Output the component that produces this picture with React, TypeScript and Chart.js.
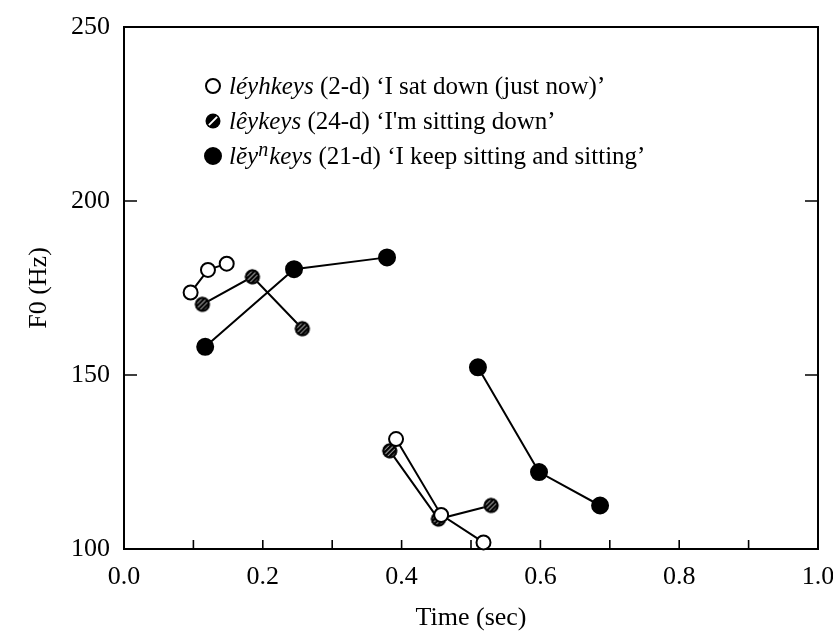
import React, { useEffect, useRef } from "react";
import { Chart, registerables } from "chart.js";

Chart.register(...registerables);

// ---- Data (time in sec, F0 in Hz); null separates the two word parts ----
const leyhkeysTime = [0.096, 0.121, 0.148, null, 0.392, 0.457, 0.518];
const leyhkeysF0 = [173.7, 180.2, 182.0, null, 131.6, 109.8, 101.9];

const leykeysTime = [0.113, 0.185, 0.257, null, 0.383, 0.453, 0.529];
const leykeysF0 = [170.3, 178.2, 163.3, null, 128.2, 108.6, 112.5];

const leynkeysTime = [0.117, 0.245, 0.379, null, 0.51, 0.598, 0.686];
const leynkeysF0 = [158.1, 180.4, 183.8, null, 152.2, 122.1, 112.5];

const xMin = 0;
const xMax = 1;
const xLabelStep = 0.2;
const xMinorStep = 0.1;
const yMin = 100;
const yMax = 250;
const yStep = 50;

const xTitle = "Time (sec)";
const yTitle = "F0 (Hz)";

// legend rows
const legend1 = [
  { t: "léyhkeys", i: true },
  { t: " (2-d) ‘I sat down (just now)’", i: false },
];
const legend2 = [
  { t: "lêykeys", i: true },
  { t: " (24-d) ‘I'm sitting down’", i: false },
];
const legend3 = [
  { t: "lĕy", i: true },
  { t: "n", i: true, sup: true },
  { t: "keys", i: true },
  { t: " (21-d) ‘I keep sitting and sitting’", i: false },
];

const FONT = '"Liberation Serif", "Times New Roman", Times, serif';

function toPoints(xs: (number | null)[], ys: (number | null)[]) {
  return xs.map((x, i) => ({ x: x, y: ys[i] }));
}

function makeHatch(r: number) {
  const s = Math.ceil(r * 2 + 3);
  const c = document.createElement("canvas");
  c.width = s;
  c.height = s;
  const g = c.getContext("2d")!;
  const cx = s / 2;
  g.beginPath();
  g.arc(cx, cx, r, 0, Math.PI * 2);
  g.fillStyle = "#fff";
  g.fill();
  g.save();
  g.clip();
  g.strokeStyle = "#000";
  g.lineWidth = 2.6;
  for (let k = -2 * s; k < 2 * s; k += 4.6) {
    g.beginPath();
    g.moveTo(k, s);
    g.lineTo(k + s, 0);
    g.stroke();
  }
  g.restore();
  g.beginPath();
  g.arc(cx, cx, r - 1, 0, Math.PI * 2);
  g.lineWidth = 2;
  g.strokeStyle = "#000";
  g.stroke();
  return c;
}

function makeLegendHatch(r: number) {
  const s = Math.ceil(r * 2 + 3);
  const c = document.createElement("canvas");
  c.width = s;
  c.height = s;
  const g = c.getContext("2d")!;
  const cx = s / 2;
  g.beginPath();
  g.arc(cx, cx, r, 0, Math.PI * 2);
  g.fillStyle = "#000";
  g.fill();
  g.save();
  g.clip();
  g.strokeStyle = "#fff";
  g.lineWidth = 2;
  g.beginPath();
  g.moveTo(cx - r * 0.55, cx + r * 0.55);
  g.lineTo(cx + r * 0.55, cx - r * 0.55);
  g.stroke();
  g.restore();
  return c;
}

export default function App() {
  const ref = useRef<HTMLCanvasElement>(null);

  useEffect(() => {
    document.body.style.margin = "0";
    const canvas = ref.current!;
    const hatch = makeHatch(7.5);
    const legendHatch = makeLegendHatch(7.5);

    const framePlugin = {
      id: "frame",
      beforeDatasetsDraw(chart: any) {
        const { ctx, chartArea } = chart;
        const { left, right, top, bottom } = chartArea;
        ctx.save();
        ctx.strokeStyle = "#000";
        ctx.lineWidth = 2;
        ctx.strokeRect(left, top, right - left, bottom - top);
        const xs = chart.scales.x;
        const ys = chart.scales.y;
        ctx.lineWidth = 1.6;
        const n = Math.round((xMax - xMin) / xMinorStep);
        for (let k = 1; k < n; k++) {
          const px = xs.getPixelForValue(xMin + k * xMinorStep);
          ctx.beginPath();
          ctx.moveTo(px, bottom);
          ctx.lineTo(px, bottom - 9);
          ctx.stroke();
        }
        for (const tk of ys.ticks) {
          if (tk.value <= yMin || tk.value >= yMax) continue;
          const py = ys.getPixelForValue(tk.value);
          ctx.beginPath();
          ctx.moveTo(left, py);
          ctx.lineTo(left + 13, py);
          ctx.moveTo(right, py);
          ctx.lineTo(right - 13, py);
          ctx.stroke();
        }
        ctx.restore();
      },
      afterDraw(chart: any) {
        const { ctx, chartArea } = chart;
        const rows = [legend1, legend2, legend3];
        const markers = ["open", "hatch", "filled"];
        const mx = chartArea.left + 89;
        const size = 25;
        ctx.save();
        rows.forEach((row, ri) => {
          const cy = chartArea.top + 59 + ri * 35;
          const m = markers[ri];
          if (m === "hatch") {
            ctx.drawImage(legendHatch, mx - legendHatch.width / 2, cy - legendHatch.height / 2);
          } else {
            ctx.beginPath();
            ctx.arc(mx, cy, m === "filled" ? 8 : 7, 0, Math.PI * 2);
            ctx.fillStyle = m === "filled" ? "#000" : "#fff";
            ctx.fill();
            ctx.lineWidth = 2;
            ctx.strokeStyle = "#000";
            ctx.stroke();
          }
          let x = mx + 16;
          const base = cy + 8;
          ctx.fillStyle = "#000";
          ctx.textBaseline = "alphabetic";
          ctx.textAlign = "left";
          for (const seg of row as any[]) {
            const fs = seg.sup ? Math.round(size * 0.8) : size;
            ctx.font = `${seg.i ? "italic " : ""}${fs}px ${FONT}`;
            ctx.fillText(seg.t, x, seg.sup ? base - 8 : base);
            x += ctx.measureText(seg.t).width + (seg.sup ? 1 : 0);
          }
        });
        ctx.restore();
      },
    };

    const common = {
      showLine: true,
      borderColor: "#000",
      borderWidth: 2,
      pointBorderColor: "#000",
      pointBorderWidth: 2,
      spanGaps: false,
      clip: false as any,
    };

    const chart = new Chart(canvas, {
      type: "scatter",
      data: {
        datasets: [
          {
            ...common,
            label: "lĕyⁿkeys",
            data: toPoints(leynkeysTime, leynkeysF0),
            pointRadius: 8,
            pointBackgroundColor: "#000",
          },
          {
            ...common,
            label: "léyhkeys",
            data: toPoints(leyhkeysTime, leyhkeysF0),
            pointRadius: 7,
            pointBackgroundColor: "#fff",
          },
          {
            ...common,
            label: "lêykeys",
            data: toPoints(leykeysTime, leykeysF0),
            pointStyle: hatch as any,
            pointRadius: 7.5,
            pointBackgroundColor: "#fff",
          },
        ],
      } as any,
      options: {
        animation: false,
        responsive: false,
        maintainAspectRatio: false,
        layout: { padding: { top: 27, right: 15, left: 0, bottom: 0 } },
        plugins: {
          legend: { display: false },
          tooltip: { enabled: false },
        },
        scales: {
          x: {
            type: "linear",
            min: xMin,
            max: xMax,
            grid: { display: false, drawTicks: false },
            border: { display: false },
            ticks: {
              stepSize: xLabelStep,
              autoSkip: false,
              maxRotation: 0,
              padding: 13,
              color: "#000",
              font: { family: FONT, size: 26 },
              callback: (v: any) => Number(v).toFixed(1),
            },
            title: {
              display: true,
              text: xTitle,
              color: "#000",
              font: { family: FONT, size: 26 },
              padding: { top: 0, bottom: 1 },
            },
            afterFit: (s: any) => {
              s.height = 86;
              s.paddingLeft = 0;
              s.paddingRight = 0;
            },
          },
          y: {
            type: "linear",
            min: yMin,
            max: yMax,
            grid: { display: false, drawTicks: false },
            border: { display: false },
            ticks: {
              stepSize: yStep,
              color: "#000",
              padding: 14,
              font: { family: FONT, size: 26 },
            },
            title: {
              display: true,
              text: yTitle,
              color: "#000",
              font: { family: FONT, size: 26 },
              padding: { top: 24, bottom: 0 },
            },
            afterFit: (s: any) => {
              s.width = 124;
              s.paddingTop = 0;
              s.paddingBottom = 0;
            },
          },
        },
      } as any,
      plugins: [framePlugin],
    });

    return () => chart.destroy();
  }, []);

  return (
    <div style={{ width: 833, height: 635 }}>
      <canvas ref={ref} width={833} height={635} style={{ display: "block" }} />
    </div>
  );
}
